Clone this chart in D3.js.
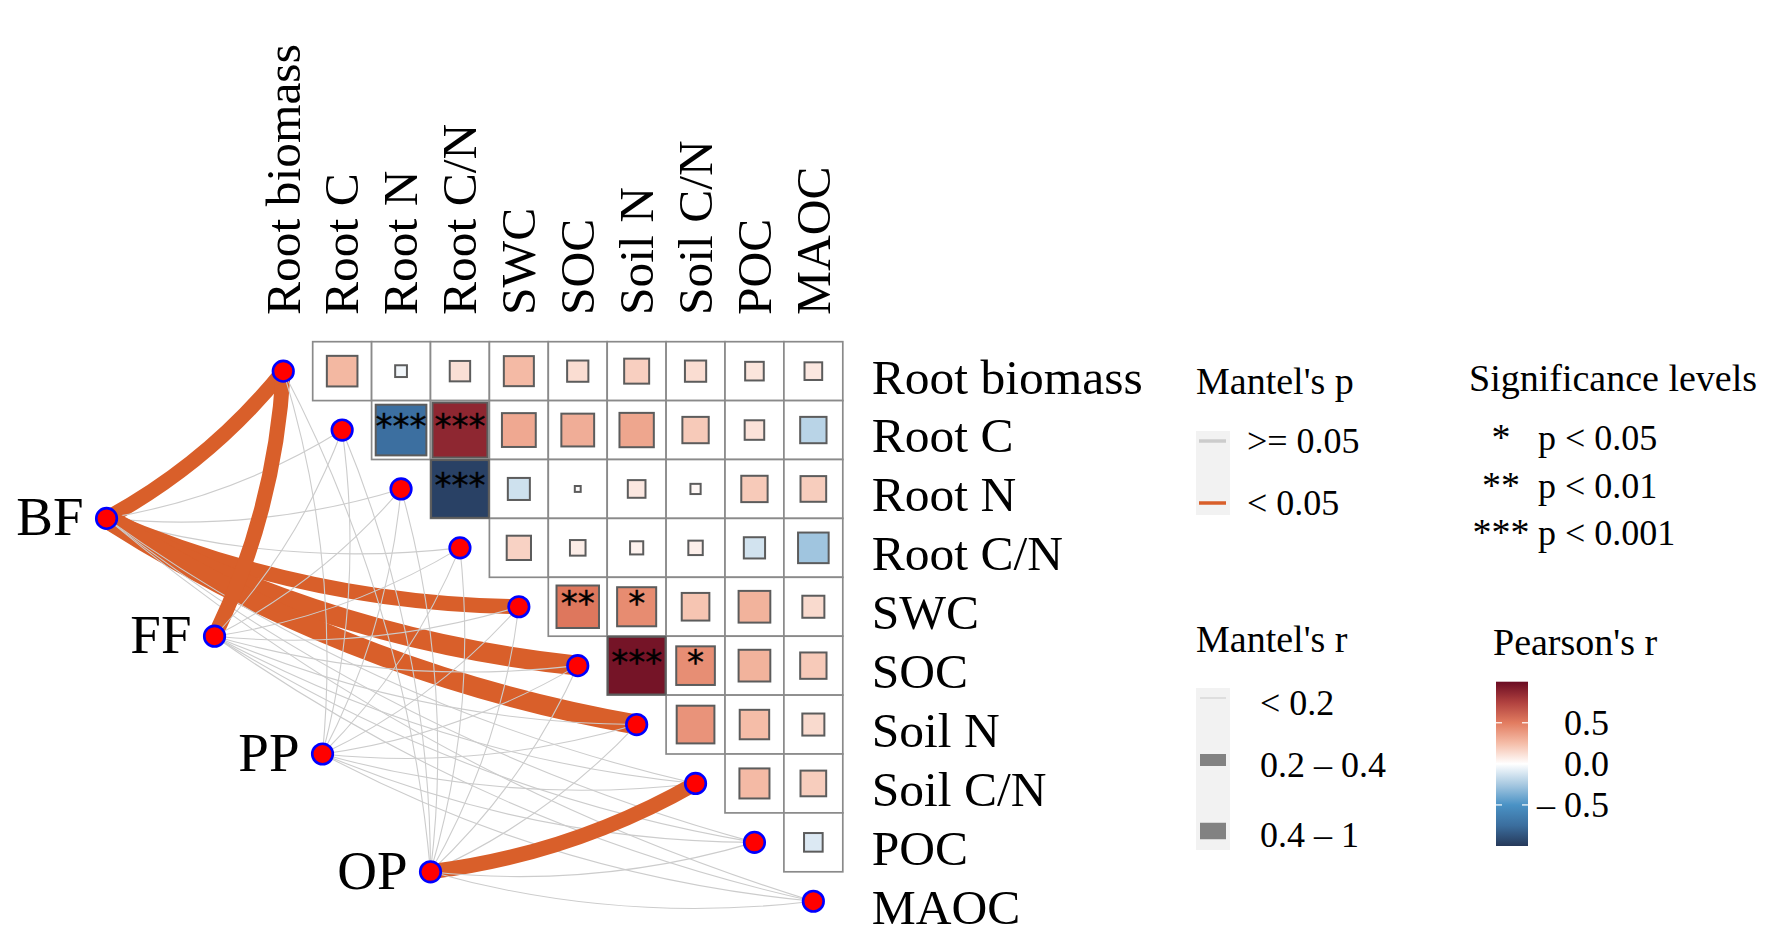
<!DOCTYPE html>
<html>
<head>
<meta charset="utf-8">
<script src="https://cdn.jsdelivr.net/npm/d3@7"></script>
<style>
  body { margin: 0; background: #fff; }
  text { font-family: 'Liberation Serif', 'Times New Roman', serif; fill: #000; }
  .stars { font-family: 'DejaVu Sans', sans-serif; }
</style>
</head>
<body>
<svg id="chart" width="1789" height="942"></svg>
<script>
'use strict';

// ── Data ──────────────────────────────────────────────────────
const VARIABLES = ['Root biomass', 'Root C', 'Root N', 'Root C/N', 'SWC',
                   'SOC', 'Soil N', 'Soil C/N', 'POC', 'MAOC'];
const GROUPS = ['BF', 'FF', 'PP', 'OP'];

// Pearson's r between variables (upper triangle, row i / column j > i)
const PEARSON_R = [
  [null, 0.27, -0.04, 0.12, 0.26, 0.13, 0.18, 0.13, 0.10, 0.09],
  [null, null, -0.74, 0.87, 0.33, 0.31, 0.34, 0.20, 0.11, -0.20],
  [null, null, null, -0.96, -0.14, 0.01, 0.09, 0.03, 0.20, 0.19],
  [null, null, null, null, 0.17, 0.07, 0.05, 0.06, -0.13, -0.27],
  [null, null, null, null, null, 0.52, 0.44, 0.22, 0.29, 0.14],
  [null, null, null, null, null, null, 0.96, 0.43, 0.29, 0.20],
  [null, null, null, null, null, null, null, 0.41, 0.25, 0.14],
  [null, null, null, null, null, null, null, null, 0.26, 0.19],
  [null, null, null, null, null, null, null, null, null, -0.10],
  [null, null, null, null, null, null, null, null, null, null],
];

// significance marks of Pearson's r
const PEARSON_STARS = [
  { row: 'Root C', col: 'Root N',   stars: '***' },
  { row: 'Root C', col: 'Root C/N', stars: '***' },
  { row: 'Root N', col: 'Root C/N', stars: '***' },
  { row: 'SWC',    col: 'SOC',      stars: '**'  },
  { row: 'SWC',    col: 'Soil N',   stars: '*'   },
  { row: 'SOC',    col: 'Soil N',   stars: '***' },
  { row: 'SOC',    col: 'Soil C/N', stars: '*'   },
];

// Mantel test: one row per group, one value per variable
const MANTEL_R = [
  [0.33, 0.08, 0.06, 0.07, 0.36, 0.46, 0.44, 0.11, 0.05, 0.09],
  [0.27, 0.06, 0.04, 0.10, 0.12, 0.09, 0.08, 0.05, 0.07, 0.11],
  [0.05, 0.09, 0.12, 0.04, 0.08, 0.10, 0.06, 0.13, 0.07, 0.03],
  [0.07, 0.04, 0.09, 0.06, 0.10, 0.05, 0.11, 0.31, 0.08, 0.06],
];
const MANTEL_P = [
  [0.004, 0.35, 0.52, 0.41, 0.012, 0.002, 0.003, 0.28, 0.61, 0.44],
  [0.021, 0.48, 0.63, 0.22, 0.16, 0.31, 0.37, 0.55, 0.42, 0.19],
  [0.56, 0.27, 0.13, 0.66, 0.38, 0.24, 0.49, 0.11, 0.43, 0.72],
  [0.45, 0.62, 0.33, 0.51, 0.25, 0.58, 0.21, 0.013, 0.36, 0.47],
];

const P_LEVELS = ['>= 0.05', '< 0.05'];
const R_LEVELS = ['< 0.2', '0.2 \u2013 0.4', '0.4 \u2013 1'];
const SIG_LEVELS = [
  { stars: '*',   label: 'p < 0.05'  },
  { stars: '**',  label: 'p < 0.01'  },
  { stars: '***', label: 'p < 0.001' },
];
const COLORBAR_TICKS = [0.5, 0, -0.5];

// ── Styles ────────────────────────────────────────────────────
const COLOR_DOMAIN = [-1, -0.75, -0.5, -0.25, 0, 0.25, 0.5, 0.75, 1];
const COLOR_RANGE  = ['#26395a', '#3b6e9e', '#4a92c5', '#a8c9e1', '#ffffff',
                      '#f5bda8', '#e27c60', '#b0413f', '#6a0b22'];
const COLOR_SIG    = '#d95f2a';
const COLOR_NONSIG = '#cccccc';

const svg = d3.select('#chart');

const N = VARIABLES.length;
const xCell = d3.scaleLinear().domain([0, N]).range([253.8, 842.8]);
const yCell = d3.scaleLinear().domain([0, N]).range([341.7, 930.7]);
const cellSize = xCell(1) - xCell(0);

const fillScale = d3.scaleLinear().domain(COLOR_DOMAIN).range(COLOR_RANGE)
  .interpolate(d3.interpolateRgb).clamp(true);

// group nodes sit on a diagonal line left-below the matrix
const groupCol = d3.scalePoint().domain(GROUPS).range([-2.5, 3.0]);
const groupRow = d3.scalePoint().domain(GROUPS).range([3, 9]);

const pColor = d3.scaleOrdinal().domain(P_LEVELS).range([COLOR_NONSIG, COLOR_SIG]);
const rWidth = d3.scaleOrdinal().domain(R_LEVELS).range([1.1, 15, 20]);

function pLevel(p) { return p < 0.05 ? P_LEVELS[1] : P_LEVELS[0]; }
function rLevel(r) { return r < 0.2 ? R_LEVELS[0] : r < 0.4 ? R_LEVELS[1] : R_LEVELS[2]; }

// ── Correlation matrix cells ──────────────────────────────────
const cells = [];
PEARSON_R.forEach((row, i) => row.forEach((r, j) => {
  if (r !== null) cells.push({ i, j, r });
}));
const starMap = new Map(PEARSON_STARS.map(s =>
  [VARIABLES.indexOf(s.row) + '-' + VARIABLES.indexOf(s.col), s.stars]));

const cellG = svg.append('g').attr('class', 'cells');

cellG.selectAll('rect.cell')
  .data(cells)
  .join('rect')
    .attr('class', 'cell')
    .attr('x', d => xCell(d.j))
    .attr('y', d => yCell(d.i))
    .attr('width', cellSize)
    .attr('height', cellSize)
    .attr('fill', '#fff')
    .attr('stroke', '#8a8a8a')
    .attr('stroke-width', 1.7);

cellG.selectAll('rect.sq')
  .data(cells)
  .join('rect')
    .attr('class', 'sq')
    .each(function(d) {
      const s = cellSize * Math.sqrt(Math.abs(d.r));
      d3.select(this)
        .attr('x', xCell(d.j + 0.5) - s / 2)
        .attr('y', yCell(d.i + 0.5) - s / 2)
        .attr('width', s)
        .attr('height', s);
    })
    .attr('fill', d => fillScale(d.r))
    .attr('stroke', '#5c5c5c')
    .attr('stroke-width', 2);

// stars sit a little above the cell centre, as in the original
cellG.selectAll('text.stars')
  .data(cells.filter(d => starMap.has(d.i + '-' + d.j)))
  .join('text')
    .attr('class', 'stars')
    .attr('x', d => xCell(d.j + 0.5))
    .attr('y', d => yCell(d.i + 0.5) - 4)
    .attr('text-anchor', 'middle')
    .attr('dominant-baseline', 'central')
    .attr('font-size', 34)
    .attr('stroke', '#000')
    .attr('stroke-width', 0.4)
    .text(d => starMap.get(d.i + '-' + d.j));

// ── Mantel links ──────────────────────────────────────────────
const links = [];
GROUPS.forEach((g, gi) => VARIABLES.forEach((v, vi) => {
  links.push({
    g, vi,
    r: MANTEL_R[gi][vi],
    p: MANTEL_P[gi][vi],
    x1: xCell(groupCol(g)), y1: yCell(groupRow(g)),
    x2: xCell(vi + 0.5),    y2: yCell(vi + 0.5),
  });
}));

const CURVATURE = 0.1;
function curvePath(d) {
  const dx = d.x2 - d.x1, dy = d.y2 - d.y1;
  const cx = (d.x1 + d.x2) / 2 - dy * CURVATURE;
  const cy = (d.y1 + d.y2) / 2 + dx * CURVATURE;
  const path = d3.path();
  path.moveTo(d.x1, d.y1);
  path.quadraticCurveTo(cx, cy, d.x2, d.y2);
  return path.toString();
}

svg.append('g').attr('class', 'links')
  .selectAll('path')
  .data(links)
  .join('path')
    .attr('d', curvePath)
    .attr('fill', 'none')
    .attr('stroke', d => pColor(pLevel(d.p)))
    .attr('stroke-width', d => rWidth(rLevel(d.r)));

// ── Nodes ─────────────────────────────────────────────────────
const nodeG = svg.append('g').attr('class', 'nodes');

nodeG.selectAll('circle.var')
  .data(VARIABLES)
  .join('circle')
    .attr('class', 'var')
    .attr('cx', (d, i) => xCell(i + 0.5))
    .attr('cy', (d, i) => yCell(i + 0.5))
    .attr('r', 10.3)
    .attr('fill', '#ff0000')
    .attr('stroke', '#0000ff')
    .attr('stroke-width', 2.6);

nodeG.selectAll('circle.grp')
  .data(GROUPS)
  .join('circle')
    .attr('class', 'grp')
    .attr('cx', d => xCell(groupCol(d)))
    .attr('cy', d => yCell(groupRow(d)))
    .attr('r', 10.3)
    .attr('fill', '#ff0000')
    .attr('stroke', '#0000ff')
    .attr('stroke-width', 2.6);

nodeG.selectAll('text.grp')
  .data(GROUPS)
  .join('text')
    .attr('class', 'grp')
    .attr('x', d => xCell(groupCol(d)) - 23)
    .attr('y', d => yCell(groupRow(d)) + 17)
    .attr('text-anchor', 'end')
    .attr('font-size', 55)
    .text(d => d);

// ── Axis labels ───────────────────────────────────────────────
svg.append('g').selectAll('text')
  .data(VARIABLES)
  .join('text')
    .attr('transform', (d, i) => `translate(${xCell(i + 0.5)},315) rotate(-90)`)
    .attr('dy', '0.33em')
    .attr('font-size', 49.5)
    .text(d => d);

svg.append('g').selectAll('text')
  .data(VARIABLES)
  .join('text')
    .attr('x', xCell(N) + 29)
    .attr('y', (d, i) => yCell(i + 0.5) + 22.4)
    .attr('font-size', 49.5)
    .text(d => d);

// ── Legend: Mantel's p ────────────────────────────────────────
const legP = svg.append('g');
legP.append('text').attr('x', 1196).attr('y', 394).attr('font-size', 38).text("Mantel's p");
legP.append('rect').attr('x', 1196).attr('y', 431).attr('width', 34).attr('height', 84).attr('fill', '#f2f2f2');
const pKeyY = d3.scalePoint().domain(P_LEVELS).range([441, 503]);
legP.selectAll('line')
  .data(P_LEVELS)
  .join('line')
    .attr('x1', 1199).attr('x2', 1226)
    .attr('y1', d => pKeyY(d)).attr('y2', d => pKeyY(d))
    .attr('stroke', d => pColor(d))
    .attr('stroke-width', 3.5);
legP.selectAll('text.lab')
  .data(P_LEVELS)
  .join('text')
    .attr('class', 'lab')
    .attr('x', 1247)
    .attr('y', d => pKeyY(d) + 12)
    .attr('font-size', 36)
    .text(d => d);

// ── Legend: significance levels ───────────────────────────────
const legS = svg.append('g');
legS.append('text').attr('x', 1469).attr('y', 391).attr('font-size', 38).text('Significance levels');
const sigY = d3.scalePoint().domain(SIG_LEVELS.map(d => d.label)).range([450, 545]);
legS.selectAll('text.st')
  .data(SIG_LEVELS)
  .join('text')
    .attr('class', 'st')
    .attr('x', 1501)
    .attr('y', d => sigY(d.label))
    .attr('text-anchor', 'middle')
    .attr('font-size', 38)
    .text(d => d.stars);
legS.selectAll('text.lb')
  .data(SIG_LEVELS)
  .join('text')
    .attr('class', 'lb')
    .attr('x', 1538)
    .attr('y', d => sigY(d.label))
    .attr('font-size', 36)
    .text(d => d.label);

// ── Legend: Mantel's r ────────────────────────────────────────
const legR = svg.append('g');
legR.append('text').attr('x', 1196).attr('y', 652).attr('font-size', 38).text("Mantel's r");
legR.append('rect').attr('x', 1196).attr('y', 688).attr('width', 34).attr('height', 162).attr('fill', '#f2f2f2');
const rKeyY = d3.scaleOrdinal().domain(R_LEVELS).range([698, 760, 831]);
const rKeyW = d3.scaleOrdinal().domain(R_LEVELS).range([1.2, 12, 16.5]);
legR.selectAll('line')
  .data(R_LEVELS)
  .join('line')
    .attr('x1', 1200).attr('x2', 1226)
    .attr('y1', d => rKeyY(d)).attr('y2', d => rKeyY(d))
    .attr('stroke', (d, i) => i === 0 ? '#d0d0d0' : '#828282')
    .attr('stroke-width', d => rKeyW(d));
legR.selectAll('text.lab')
  .data(R_LEVELS)
  .join('text')
    .attr('class', 'lab')
    .attr('x', 1260)
    .attr('y', (d, i) => rKeyY(d) + [17, 17, 16][i])
    .attr('font-size', 36)
    .text(d => d);

// ── Legend: Pearson's r colour bar ────────────────────────────
const legC = svg.append('g');
legC.append('text').attr('x', 1493).attr('y', 655).attr('font-size', 38).text("Pearson's r");
const barY = d3.scaleLinear().domain([-1, 1]).range([846, 681.7]);
const grad = svg.append('defs').append('linearGradient')
  .attr('id', 'pearson-grad')
  .attr('x1', 0).attr('y1', 1).attr('x2', 0).attr('y2', 0);
grad.selectAll('stop')
  .data(COLOR_DOMAIN)
  .join('stop')
    .attr('offset', d => (d + 1) / 2)
    .attr('stop-color', d => fillScale(d));
legC.append('rect')
  .attr('x', 1496).attr('y', barY(1))
  .attr('width', 32).attr('height', barY(-1) - barY(1))
  .attr('fill', 'url(#pearson-grad)');
COLORBAR_TICKS.forEach(t => {
  [[1496, 1502], [1522, 1528]].forEach(([a, b]) => {
    legC.append('line')
      .attr('x1', a).attr('x2', b)
      .attr('y1', barY(t)).attr('y2', barY(t))
      .attr('stroke', '#fff').attr('stroke-width', 1.2);
  });
});
legC.selectAll('text.tk')
  .data(COLORBAR_TICKS)
  .join('text')
    .attr('class', 'tk')
    .attr('x', 1609)
    .attr('y', d => barY(d) + 12)
    .attr('text-anchor', 'end')
    .attr('font-size', 36)
    .text(d => d < 0 ? '\u2013 ' + d3.format('.1f')(-d) : d3.format('.1f')(d));
</script>
</body>
</html>
